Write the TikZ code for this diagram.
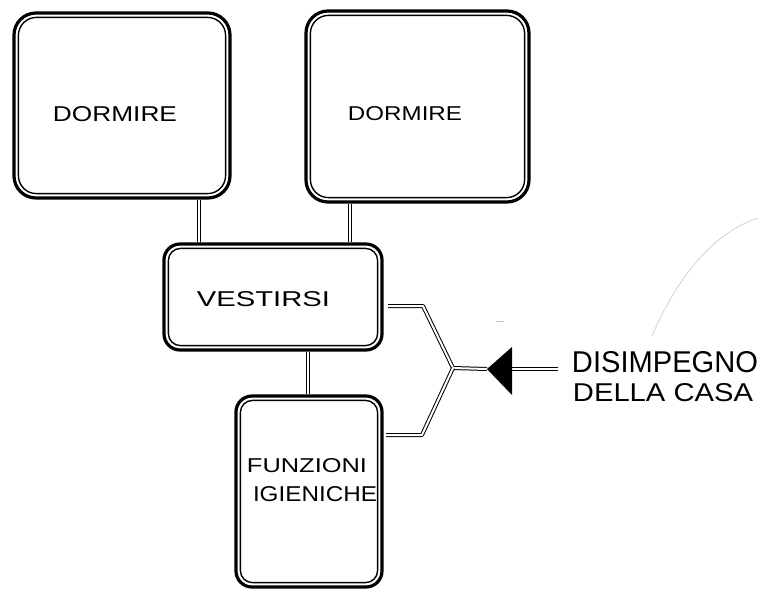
\documentclass[tikz,border=0pt]{standalone}
\usepackage{fontspec}
\setmainfont{Liberation Sans}
\usepackage{graphicx}
\usetikzlibrary{calc}
% lettering squeezed to an exact width and cap height (in pt)
\newcommand{\hand}[3]{\resizebox{#1pt}{#2pt}{#3}}

\begin{document}
\begin{tikzpicture}[x=1pt,y=-1pt,
  room/.style={draw, line width=3.2pt, rounded corners=#1, fill=white,
               inner sep=0pt, outer sep=0pt},
  roomin/.style={draw, line width=1.4pt, rounded corners=#1},
  link/.style={draw, line width=1pt, double=white, double distance=2pt,
               line join=round, shorten <=1.6pt, shorten >=1.6pt},
  branch/.style={draw, line width=1pt, double=white, double distance=2pt,
               line join=round},
  word/.style={inner sep=0pt, outer sep=0pt}]

\useasboundingbox (0,0) rectangle (761,590);

% rooms
\node[room=22pt, minimum width=216pt, minimum height=185pt] (d1) at (122,105.5) {};
\node[room=22pt, minimum width=223pt, minimum height=191pt] (d2) at (417.5,106.5) {};
\node[room=16pt, minimum width=218pt, minimum height=106pt] (v)  at (273,297) {};
\node[room=16pt, minimum width=146pt, minimum height=191pt] (f)  at (309,491.5) {};

% inner outlines of the rooms
\foreach \n/\r in {d1/18pt, d2/18pt, v/12pt, f/12pt}{
  \draw[roomin=\r] ([shift={(4.4pt,-4.4pt)}]\n.north west)
                   rectangle ([shift={(-4.4pt,4.4pt)}]\n.south east);
}

% labels
\node[word] (t1) at (115,114.5) {\hand{124}{15}{DORMIRE}};
\node[word] (t2) at (405,113.5) {\hand{114}{14}{DORMIRE}};
\node[word] (t3) at (263.5,299.5) {\hand{133}{15}{VESTIRSI}};
\node[word] (t4) at (307,465.5) {\hand{120}{14}{FUNZIONI}};
\node[word] (t5) at (315,494.5) {\hand{124}{15}{IGIENICHE}};
\node[word] (t6) at (665,362.5) {\hand{186}{21}{DISIMPEGNO}};
\node[word] (t7) at (663,392.5) {\hand{180}{18}{DELLA CASA}};

% vertical links between the rooms
\coordinate (c1) at (199,0);
\coordinate (c2) at (350,0);
\coordinate (c3) at (308,0);
\draw[link] (d1.south -| c1) -- (v.north -| c1);
\draw[link] (d2.south -| c2) -- (v.north -| c2);
\draw[link] (v.south -| c3) -- (f.north -| c3);

% branching access from the entrance
\coordinate (ur) at (0,306);
\coordinate (lr) at (0,435);
\coordinate (ub) at (423,306);
\coordinate (lb) at (422,435);
\coordinate (j)  at (453,368);
\coordinate (tip) at (487,369);
\coordinate (bk1) at (512,347);
\coordinate (bk2) at (512,395);
\coordinate (bk)  at (511,369);
\coordinate (tail) at (558,369);

\draw[branch] ([xshift=6pt]v.east |- ur) -- (ub) -- (j) -- (tip);
\draw[branch] ([xshift=4pt]f.east |- lr) -- (lb) -- (j);
\draw[branch] (bk) -- (tail);
\fill[black] (tip) -- (bk1) -- (bk2) -- cycle;

% faint pencil marks
\draw[black!22, line width=0.6pt] (652,336) .. controls (678,275) and (715,232) .. (758,218);
\draw[black!25, line width=0.8pt] (496,321) -- (504,321);
\end{tikzpicture}
\end{document}
